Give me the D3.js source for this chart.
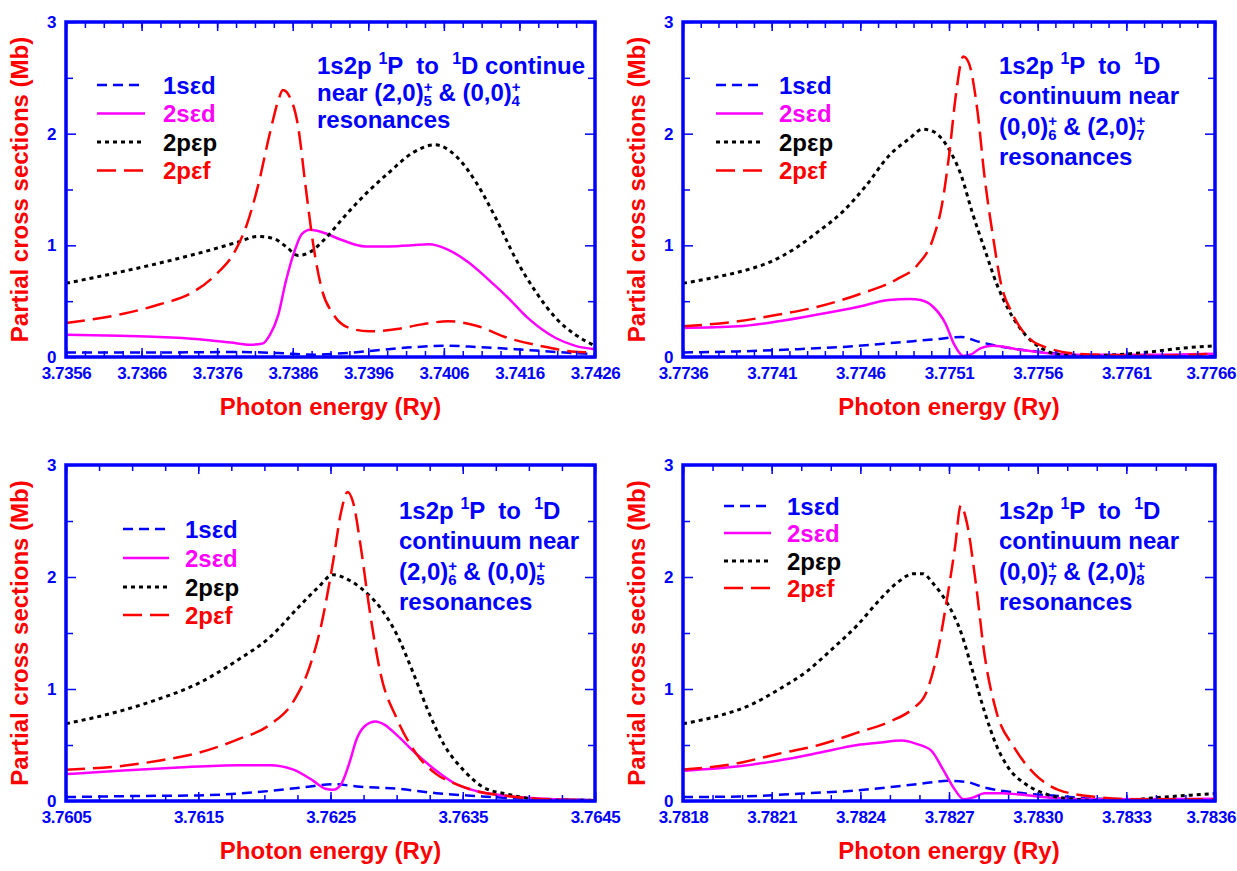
<!DOCTYPE html>
<html>
<head>
<meta charset="utf-8">
<script src="https://cdn.jsdelivr.net/npm/d3@7"></script>
<style>
  body { margin: 0; background: #fff; }
  svg text { font-family: "Liberation Sans", Arial, Helvetica, sans-serif; font-weight: bold; white-space: pre; }
</style>
</head>
<body>
<div id="chart"></div>
<script>
// Partial cross sections (Mb) vs photon energy (Ry)
// panel 1: near (2,0)5+ & (0,0)4+
const p1_1sed = [[3.73560,0.04],[3.73683,0.04],[3.73788,0.045],[3.73841,0.035],[3.73888,0.02],[3.73919,0.03],[3.73972,0.06],[3.74024,0.09],[3.74066,0.10],[3.74103,0.09],[3.74155,0.07],[3.74208,0.045],[3.74260,0.025]];
const p1_2sed = [[3.73560,0.20],[3.73631,0.19],[3.73683,0.18],[3.73736,0.16],[3.73778,0.13],[3.73804,0.11],[3.73820,0.12],[3.73830,0.20],[3.73841,0.38],[3.73851,0.68],[3.73862,0.94],[3.73872,1.10],[3.73883,1.14],[3.73898,1.12],[3.73924,1.05],[3.73956,0.99],[3.73987,0.99],[3.74019,1.00],[3.74040,1.01],[3.74066,0.96],[3.74092,0.85],[3.74118,0.70],[3.74145,0.53],[3.74171,0.35],[3.74208,0.17],[3.74234,0.10],[3.74260,0.07]];
const p1_2pep = [[3.73560,0.66],[3.73631,0.76],[3.73683,0.84],[3.73736,0.93],[3.73788,1.03],[3.73814,1.08],[3.73835,1.06],[3.73851,0.99],[3.73867,0.91],[3.73883,0.94],[3.73903,1.06],[3.73930,1.27],[3.73961,1.49],[3.73987,1.65],[3.74019,1.83],[3.74048,1.90],[3.74076,1.80],[3.74103,1.56],[3.74129,1.24],[3.74155,0.88],[3.74181,0.59],[3.74208,0.35],[3.74234,0.20],[3.74260,0.10]];
const p1_2pef = [[3.73560,0.305],[3.73631,0.38],[3.73683,0.47],[3.73725,0.57],[3.73757,0.73],[3.73783,0.94],[3.73799,1.18],[3.73814,1.53],[3.73830,2.01],[3.73841,2.30],[3.73847,2.39],[3.73856,2.33],[3.73867,2.07],[3.73877,1.53],[3.73888,0.97],[3.73898,0.62],[3.73914,0.38],[3.73935,0.26],[3.73961,0.23],[3.73998,0.25],[3.74029,0.29],[3.74066,0.32],[3.74103,0.28],[3.74145,0.17],[3.74187,0.10],[3.74229,0.05],[3.74260,0.04]];

// panel 2: near (0,0)6+ & (2,0)7+
const p2_1sed = [[3.77360,0.04],[3.77391,0.05],[3.77425,0.07],[3.77459,0.10],[3.77481,0.13],[3.77503,0.16],[3.77517,0.18],[3.77526,0.14],[3.77537,0.10],[3.77559,0.05],[3.77582,0.02],[3.77615,0.01],[3.77660,0.015]];
const p2_2sed = [[3.77360,0.26],[3.77391,0.275],[3.77414,0.32],[3.77436,0.38],[3.77459,0.45],[3.77476,0.51],[3.77488,0.52],[3.77494,0.51],[3.77501,0.45],[3.77508,0.30],[3.77513,0.11],[3.77518,0.01],[3.77522,0.02],[3.77528,0.08],[3.77535,0.10],[3.77548,0.07],[3.77562,0.04],[3.77582,0.02],[3.77615,0.02],[3.77660,0.03]];
const p2_2pep = [[3.77360,0.66],[3.77380,0.72],[3.77396,0.78],[3.77409,0.85],[3.77423,0.97],[3.77436,1.12],[3.77450,1.30],[3.77463,1.53],[3.77476,1.80],[3.77488,1.96],[3.77495,2.04],[3.77501,2.02],[3.77510,1.86],[3.77517,1.62],[3.77523,1.30],[3.77530,0.97],[3.77537,0.65],[3.77544,0.41],[3.77553,0.20],[3.77562,0.08],[3.77573,0.02],[3.77586,0.01],[3.77604,0.02],[3.77626,0.05],[3.77642,0.08],[3.77660,0.10]];
const p2_2pef = [[3.77360,0.275],[3.77391,0.32],[3.77414,0.38],[3.77436,0.45],[3.77459,0.56],[3.77481,0.70],[3.77492,0.82],[3.77501,1.06],[3.77506,1.36],[3.77510,1.80],[3.77514,2.36],[3.77518,2.69],[3.77521,2.64],[3.77526,2.21],[3.77530,1.62],[3.77535,1.06],[3.77539,0.68],[3.77546,0.38],[3.77555,0.17],[3.77566,0.08],[3.77582,0.03],[3.77604,0.015],[3.77626,0.01],[3.77660,0.03]];

// panel 3: near (2,0)6+ & (0,0)5+
const p3_1sed = [[3.76050,0.035],[3.76105,0.045],[3.76150,0.05],[3.76195,0.08],[3.76228,0.12],[3.76252,0.15],[3.76270,0.13],[3.76300,0.11],[3.76330,0.07],[3.76360,0.045],[3.76390,0.024],[3.76420,0.015],[3.76450,0.006]];
const p3_2sed = [[3.76050,0.24],[3.76090,0.27],[3.76135,0.30],[3.76180,0.32],[3.76204,0.32],[3.76222,0.28],[3.76237,0.18],[3.76246,0.11],[3.76252,0.10],[3.76258,0.15],[3.76264,0.33],[3.76270,0.56],[3.76276,0.67],[3.76284,0.71],[3.76291,0.68],[3.76300,0.59],[3.76315,0.42],[3.76330,0.27],[3.76345,0.15],[3.76360,0.09],[3.76384,0.045],[3.76420,0.015],[3.76450,0.006]];
const p3_2pep = [[3.76050,0.69],[3.76090,0.80],[3.76120,0.91],[3.76150,1.05],[3.76180,1.26],[3.76204,1.46],[3.76225,1.72],[3.76240,1.90],[3.76252,2.02],[3.76261,1.99],[3.76273,1.90],[3.76288,1.72],[3.76300,1.49],[3.76312,1.16],[3.76324,0.80],[3.76336,0.50],[3.76351,0.27],[3.76366,0.12],[3.76384,0.06],[3.76405,0.015],[3.76426,0.006],[3.76450,0.006]];
const p3_2pef = [[3.76050,0.28],[3.76090,0.31],[3.76120,0.36],[3.76150,0.43],[3.76180,0.55],[3.76204,0.68],[3.76222,0.89],[3.76234,1.19],[3.76243,1.57],[3.76252,2.14],[3.76258,2.58],[3.76263,2.76],[3.76267,2.67],[3.76273,2.26],[3.76279,1.75],[3.76288,1.13],[3.76300,0.74],[3.76315,0.42],[3.76330,0.24],[3.76345,0.15],[3.76360,0.09],[3.76384,0.045],[3.76414,0.015],[3.76450,0.006]];

// panel 4: near (0,0)7+ & (2,0)8+
const p4_1sed = [[3.78180,0.035],[3.78199,0.04],[3.78219,0.065],[3.78239,0.095],[3.78259,0.15],[3.78270,0.18],[3.78276,0.17],[3.78282,0.12],[3.78293,0.075],[3.78307,0.045],[3.78320,0.02],[3.78340,0.015],[3.78360,0.015]];
const p4_2sed = [[3.78180,0.27],[3.78199,0.31],[3.78212,0.36],[3.78226,0.43],[3.78239,0.50],[3.78246,0.52],[3.78254,0.54],[3.78259,0.51],[3.78264,0.45],[3.78268,0.28],[3.78272,0.10],[3.78275,0.015],[3.78278,0.03],[3.78282,0.07],[3.78288,0.07],[3.78293,0.06],[3.78304,0.03],[3.78320,0.015],[3.78360,0.02]];
const p4_2pep = [[3.78180,0.69],[3.78192,0.76],[3.78203,0.86],[3.78212,0.99],[3.78222,1.16],[3.78231,1.37],[3.78239,1.57],[3.78247,1.81],[3.78253,1.96],[3.78258,2.03],[3.78261,2.03],[3.78265,1.93],[3.78270,1.74],[3.78274,1.51],[3.78278,1.16],[3.78282,0.80],[3.78286,0.50],[3.78290,0.30],[3.78296,0.15],[3.78303,0.06],[3.78313,0.015],[3.78327,0.0],[3.78340,0.03],[3.78360,0.065]];
const p4_2pef = [[3.78180,0.28],[3.78199,0.34],[3.78212,0.42],[3.78226,0.50],[3.78239,0.61],[3.78250,0.71],[3.78258,0.83],[3.78262,0.95],[3.78266,1.31],[3.78269,1.75],[3.78272,2.26],[3.78274,2.64],[3.78276,2.49],[3.78279,1.96],[3.78282,1.31],[3.78286,0.80],[3.78292,0.48],[3.78299,0.24],[3.78307,0.10],[3.78320,0.036],[3.78334,0.015],[3.78360,0.015]];

const seriesNames = ['1s\u03b5d', '2s\u03b5d', '2p\u03b5p', '2p\u03b5f'];
const yTicks = [0, 1, 2, 3];
const yMinorTicks = [0.5, 1.5, 2.5];

// x tick settings per panel: [start, end, major step, minor step]
const xTicks1 = [3.7356, 3.7426, 0.001, 0.00025];
const xTicks2 = [3.7736, 3.7766, 0.0005, 0.0001];
const xTicks3 = [3.7605, 3.7645, 0.001, 0.00025];
const xTicks4 = [3.7818, 3.7836, 0.0003, 0.0001];

// annotation lines; sup = raised 1, pm = stacked +/subscript
const head = [{t: '1s2p '}, {sup: '1'}, {t: 'P  to  '}, {sup: '1'}, {t: 'D'}];
const note1 = [
  [{t: '1s2p '}, {sup: '1'}, {t: 'P  to  '}, {sup: '1'}, {t: 'D continue'}],
  [{t: 'near (2,0)'}, {pm: '5'}, {t: ' & (0,0)'}, {pm: '4'}],
  [{t: 'resonances'}]
];
const note2 = [head, [{t: 'continuum near'}], [{t: '(0,0)'}, {pm: '6'}, {t: ' & (2,0)'}, {pm: '7'}], [{t: 'resonances'}]];
const note3 = [head, [{t: 'continuum near'}], [{t: '(2,0)'}, {pm: '6'}, {t: ' & (0,0)'}, {pm: '5'}], [{t: 'resonances'}]];
const note4 = [head, [{t: 'continuum near'}], [{t: '(0,0)'}, {pm: '7'}, {t: ' & (2,0)'}, {pm: '8'}], [{t: 'resonances'}]];

const BLUE = '#0000ff';
const RED = '#ff0000';
const styles = [
  {color: BLUE, width: 2.5, dash: '10,6'},
  {color: '#ff00ff', width: 2.5, dash: null},
  {color: '#000000', width: 3, dash: '4,4'},
  {color: RED, width: 2.5, dash: '19,8'}
];

const panels = [
  {box: [66, 595, 22, 357], ticks: xTicks1, data: [p1_1sed, p1_2sed, p1_2pep, p1_2pef],
   legend: {x1: 97, x2: 145, tx: 163, rows: [85, 113.5, 142, 170.5]},
   note: {x: 317, ys: [74, 101, 128], lines: note1}},
  {box: [683, 1215, 22, 357], ticks: xTicks2, data: [p2_1sed, p2_2sed, p2_2pep, p2_2pef],
   legend: {x1: 716, x2: 763, tx: 779, rows: [85, 113.5, 142, 170.5]},
   note: {x: 999, ys: [74, 104, 135, 165], lines: note2}},
  {box: [66, 595, 465, 801], ticks: xTicks3, data: [p3_1sed, p3_2sed, p3_2pep, p3_2pef],
   legend: {x1: 123, x2: 169, tx: 185, rows: [529, 558, 587, 615]},
   note: {x: 399, ys: [519, 549, 580, 610], lines: note3}},
  {box: [683, 1215, 465, 801], ticks: xTicks4, data: [p4_1sed, p4_2sed, p4_2pep, p4_2pef],
   legend: {x1: 724, x2: 771, tx: 787, rows: [506, 533, 561, 588]},
   note: {x: 999, ys: [519, 549, 580, 610], lines: note4}}
];

const W = 1237, H = 871;
const svg = d3.select('#chart').append('svg')
  .attr('width', W)
  .attr('height', H);

function stepValues(a, b, s) {
  const n = Math.round((b - a) / s);
  return d3.range(n + 1).map(i => +(a + i * s).toFixed(6));
}

function drawNote(g, note) {
  note.lines.forEach((segs, li) => {
    const text = g.append('text')
      .attr('x', note.x)
      .attr('y', note.ys[li])
      .attr('fill', BLUE)
      .attr('font-size', 24);
    let cur = 0;
    const put = (str, size, off, dx) => {
      const ts = text.append('tspan').attr('dy', off - cur).text(str);
      if (size) ts.attr('font-size', size);
      if (dx) ts.attr('dx', dx);
      cur = off;
    };
    segs.forEach(s => {
      if (s.t !== undefined) put(s.t, null, 0);
      else if (s.sup) put(s.sup, 16, -10);
      else if (s.pm) {
        put('+', 15, -9);
        put(s.pm, 15, 5, -9);
      }
    });
  });
}

panels.forEach((p, i) => {
  const [left, right, top, bottom] = p.box;
  const [x0, x1, major, minor] = p.ticks;
  const g = svg.append('g');

  const x = d3.scaleLinear().domain([x0, x1]).range([left, right]);
  const y = d3.scaleLinear().domain([0, 3]).range([bottom, top]);

  const clipId = 'clip' + i;
  svg.append('clipPath').attr('id', clipId)
    .append('rect')
    .attr('x', left).attr('y', top)
    .attr('width', right - left).attr('height', bottom - top);

  // curves
  const line = d3.line()
    .x(d => x(d[0]))
    .y(d => y(d[1]))
    .curve(d3.curveMonotoneX);

  const curves = g.append('g').attr('clip-path', `url(#${clipId})`);
  p.data.forEach((ser, k) => {
    const st = styles[k];
    curves.append('path')
      .datum(ser)
      .attr('d', line)
      .attr('fill', 'none')
      .attr('stroke', st.color)
      .attr('stroke-width', st.width)
      .attr('stroke-dasharray', st.dash);
  });

  // axes: inward ticks on all four sides
  const majorX = stepValues(x0, x1, major);
  const minorX = stepValues(x0, x1, minor);
  const fmt = d3.format('.4f');

  const addAxis = (axis, tx, ty, labels) => {
    const a = g.append('g').attr('transform', `translate(${tx},${ty})`).call(axis);
    a.select('.domain').remove();
    a.selectAll('line').attr('stroke', BLUE).attr('stroke-width', 1.5);
    if (labels) {
      a.selectAll('text')
        .attr('fill', BLUE)
        .attr('font-size', 17)
        .attr('letter-spacing', -0.4)
        .style('font-family', '"Liberation Sans", Arial, sans-serif')
        .style('font-weight', 'bold');
    } else {
      a.selectAll('text').remove();
    }
    return a;
  };

  addAxis(d3.axisBottom(x).tickValues(minorX).tickSize(-6).tickFormat(''), 0, bottom, false);
  addAxis(d3.axisTop(x).tickValues(minorX).tickSize(-6).tickFormat(''), 0, top, false);
  const xa = addAxis(d3.axisBottom(x).tickValues(majorX).tickSize(-9).tickPadding(10).tickFormat(fmt), 0, bottom, true);
  addAxis(d3.axisTop(x).tickValues(majorX).tickSize(-9).tickFormat(''), 0, top, false);

  addAxis(d3.axisLeft(y).tickValues(yMinorTicks).tickSize(-7).tickFormat(''), left, 0, false);
  addAxis(d3.axisRight(y).tickValues(yMinorTicks).tickSize(-7).tickFormat(''), right, 0, false);
  addAxis(d3.axisLeft(y).tickValues(yTicks).tickSize(-10).tickPadding(10).tickFormat(d3.format('d')), left, 0, true);
  addAxis(d3.axisRight(y).tickValues(yTicks).tickSize(-10).tickFormat(''), right, 0, false);

  // keep the last x label inside the page
  xa.selectAll('text').each(function () {
    const b = this.getBBox();
    const gx = right + b.x + b.width;
    const over = (this.parentNode.transform.baseVal.consolidate().matrix.e + b.x + b.width) - (W - 1);
    if (over > 0) d3.select(this).attr('dx', -over);
  });

  // frame
  g.append('rect')
    .attr('x', left).attr('y', top)
    .attr('width', right - left).attr('height', bottom - top)
    .attr('fill', 'none')
    .attr('stroke', BLUE)
    .attr('stroke-width', 3.5);

  // axis titles
  g.append('text')
    .attr('x', (left + right) / 2)
    .attr('y', bottom + 58)
    .attr('text-anchor', 'middle')
    .attr('fill', RED)
    .attr('font-size', 24)
    .text('Photon energy (Ry)');

  g.append('text')
    .attr('transform', `translate(${left - 38},${(top + bottom) / 2}) rotate(-90)`)
    .attr('text-anchor', 'middle')
    .attr('fill', RED)
    .attr('font-size', 24)
    .text('Partial cross sections (Mb)');

  // legend
  const lg = p.legend;
  seriesNames.forEach((name, k) => {
    const st = styles[k];
    const ry = lg.rows[k];
    g.append('line')
      .attr('x1', lg.x1).attr('x2', lg.x2)
      .attr('y1', ry).attr('y2', ry)
      .attr('stroke', st.color)
      .attr('stroke-width', st.width)
      .attr('stroke-dasharray', st.dash);
    g.append('text')
      .attr('x', lg.tx)
      .attr('y', ry + 8.5)
      .attr('fill', st.color)
      .attr('font-size', 24)
      .text(name);
  });

  drawNote(g, p.note);
});
</script>
</body>
</html>
